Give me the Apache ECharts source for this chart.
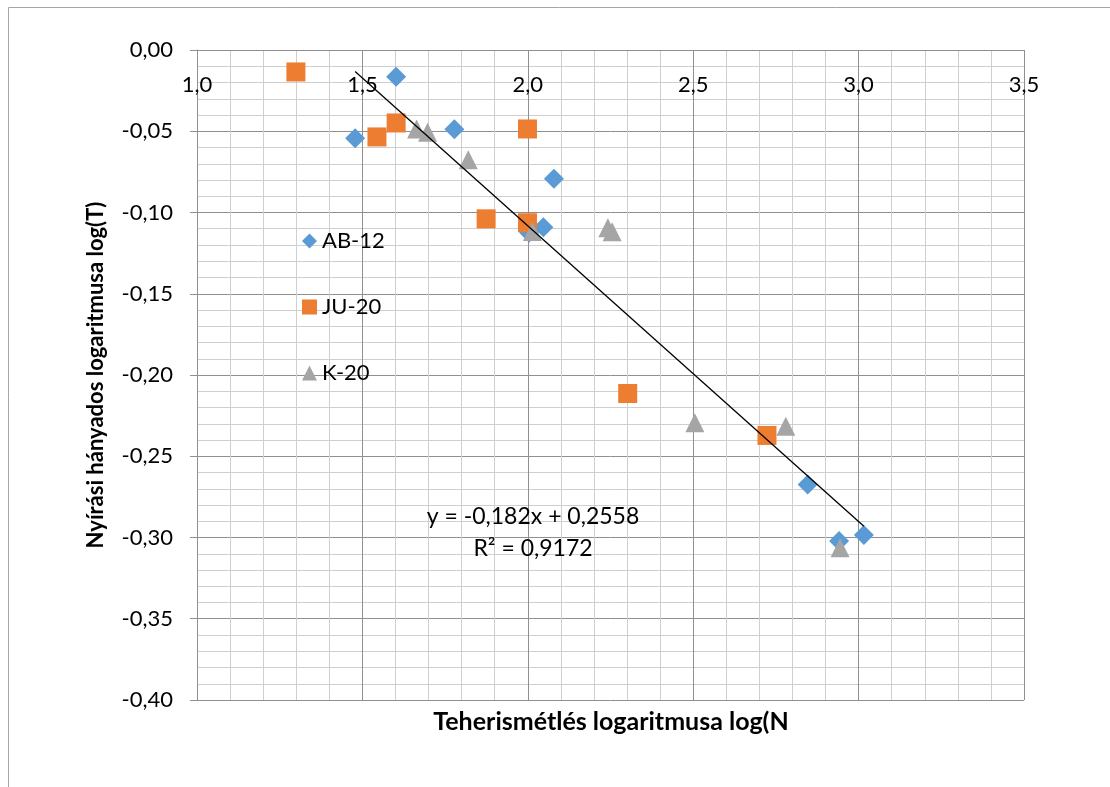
<!DOCTYPE html>
<html>
<head>
<meta charset="utf-8">
<title>Nyírási hányados – teherismétlés</title>
<script src="https://cdn.jsdelivr.net/npm/echarts@6/dist/echarts.min.js"></script>
<style>
  html, body { margin: 0; padding: 0; background: #ffffff; }
  #chart { width: 1110px; height: 787px; }
</style>
</head>
<body>
<div id="chart"></div>
<script>
// Measured points: log(N) on x, log(T) on y
const seriesNames = ['AB-12', 'JU-20', 'K-20'];

const ab12X = [1.478, 1.602, 1.778, 2.079, 2.047, 2.004, 2.846, 2.941, 3.016];
const ab12Y = [-0.0543, -0.0164, -0.0488, -0.0793, -0.1090, -0.1125, -0.2674, -0.3022, -0.2985];

const ju20X = [1.299, 1.544, 1.602, 1.999, 1.874, 1.999, 2.302, 2.723];
const ju20Y = [-0.0135, -0.0535, -0.0449, -0.0486, -0.1039, -0.1063, -0.2114, -0.2372];

const k20X = [1.664, 1.697, 1.820, 2.014, 2.242, 2.255, 2.505, 2.780, 2.944];
const k20Y = [-0.0486, -0.0506, -0.0676, -0.1117, -0.1094, -0.1119, -0.2294, -0.2315, -0.3063];

// Linear trendline of AB-12 as stated on the chart
const trendSlope = -0.182;
const trendIntercept = 0.2558;
const trendR2 = 0.9172;

// Axis ranges and steps
const xMin = 1.0, xMax = 3.5, xStep = 0.5;
const yMin = -0.40, yMax = 0.00, yStep = 0.05;

const FONT = 'Lato, "Open Sans", "Noto Sans", sans-serif';
const MAJOR = '#8f8f8f';
const MINOR = '#cfcfcf';

function pairs(xs, ys) { return xs.map((x, i) => [x, ys[i]]); }
function comma(v, d) { return v.toFixed(d).replace('.', ','); }

const trendX0 = Math.min(...ab12X);
const trendX1 = Math.max(...ab12X);
const trendData = [
  [trendX0, trendSlope * trendX0 + trendIntercept],
  [trendX1, trendSlope * trendX1 + trendIntercept]
];

const eqText = 'y = ' + comma(trendSlope, 3) + 'x + ' + comma(trendIntercept, 4);
const r2Text = 'R² = ' + comma(trendR2, 4);

const chart = echarts.init(document.getElementById('chart'), null, { renderer: 'canvas' });

chart.setOption({
  backgroundColor: '#ffffff',
  animation: false,
  textStyle: { fontFamily: FONT },
  grid: { left: 197, right: 86, top: 50, bottom: 87, containLabel: false },
  legend: {
    data: seriesNames,
    orient: 'vertical',
    left: 297,
    top: 225,
    itemWidth: 15,
    itemHeight: 15,
    itemGap: 44,
    textStyle: { fontFamily: FONT, fontSize: 22, color: '#000000' }
  },
  xAxis: {
    type: 'value',
    position: 'top',
    min: xMin,
    max: xMax,
    interval: xStep,
    axisLine: { show: true, onZero: false, lineStyle: { color: MAJOR, width: 1 } },
    axisTick: { show: false },
    minorTick: { show: false, splitNumber: 5 },
    axisLabel: {
      inside: true,
      margin: 24,
      fontFamily: FONT,
      fontSize: 22,
      color: '#000000',
      showMinLabel: true,
      showMaxLabel: true,
      formatter: v => comma(v, 1)
    },
    splitLine: { show: true, lineStyle: { color: MAJOR, width: 1 } },
    minorSplitLine: { show: true, lineStyle: { color: MINOR, width: 1 } }
  },
  yAxis: {
    type: 'value',
    min: yMin,
    max: yMax,
    interval: yStep,
    name: 'Nyírási hányados logaritmusa log(T)',
    nameLocation: 'middle',
    nameGap: 90,
    nameTextStyle: { fontFamily: FONT, fontSize: 22, fontWeight: 'bold', color: '#000000' },
    axisLine: { show: true, onZero: false, lineStyle: { color: MAJOR, width: 1 } },
    axisTick: { show: true, length: 7, lineStyle: { color: MAJOR } },
    minorTick: { show: false, splitNumber: 5 },
    axisLabel: {
      margin: 24,
      fontFamily: FONT,
      fontSize: 22,
      color: '#000000',
      formatter: v => comma(v, 2)
    },
    splitLine: { show: true, lineStyle: { color: MAJOR, width: 1 } },
    minorSplitLine: { show: true, lineStyle: { color: MINOR, width: 1 } }
  },
  series: [
    {
      name: 'AB-12', type: 'scatter', symbol: 'diamond', symbolSize: 20,
      itemStyle: { color: '#5B9BD5', opacity: 1 }, data: pairs(ab12X, ab12Y), z: 2
    },
    {
      name: 'JU-20', type: 'scatter', symbol: 'rect', symbolSize: 19,
      itemStyle: { color: '#ED7D31', opacity: 1 }, data: pairs(ju20X, ju20Y), z: 3
    },
    {
      name: 'K-20', type: 'scatter', symbol: 'triangle', symbolSize: 19,
      itemStyle: { color: '#A5A5A5', opacity: 1 }, data: pairs(k20X, k20Y), z: 4
    },
    {
      name: 'Lineáris (AB-12)', type: 'line', data: trendData, symbol: 'none',
      lineStyle: { color: '#000000', width: 1.3 }, z: 5, silent: true
    }
  ],
  graphic: [
    {
      type: 'rect', silent: true, z: -1,
      shape: { x: 8.5, y: 7.5, width: 1300, height: 1000 },
      style: { fill: 'none', stroke: '#a6a6a6', lineWidth: 1 }
    },
    {
      type: 'text', silent: true,
      style: { x: 611, y: 722, text: 'Teherismétlés logaritmusa log(N', textAlign: 'center',
               textVerticalAlign: 'middle', fontFamily: FONT, fontSize: 25, fontWeight: 'bold', fill: '#000000' }
    },
    {
      type: 'text', silent: true, z: 10,
      style: { x: 533, y: 517, text: eqText, textAlign: 'center', textVerticalAlign: 'middle',
               fontFamily: FONT, fontSize: 23, fill: '#000000' }
    },
    {
      type: 'text', silent: true, z: 10,
      style: { x: 533, y: 549, text: r2Text, textAlign: 'center', textVerticalAlign: 'middle',
               fontFamily: FONT, fontSize: 23, fill: '#000000' }
    }
  ]
});
</script>
</body>
</html>
